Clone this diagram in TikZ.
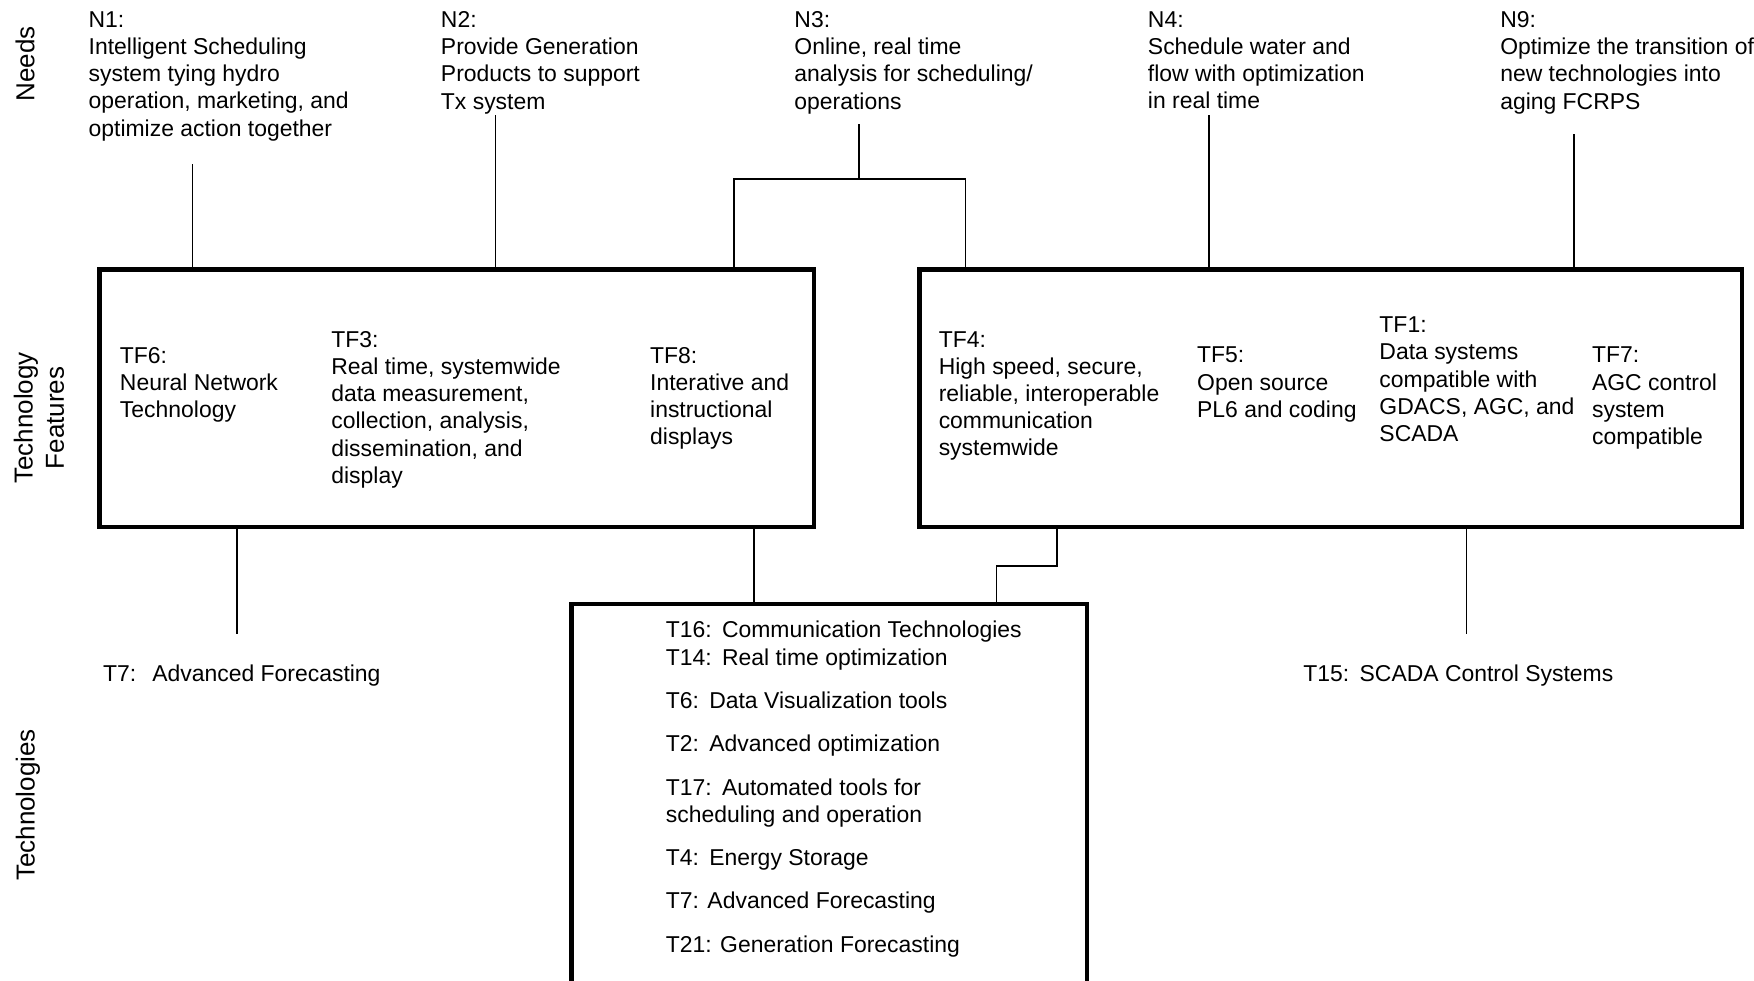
\documentclass[tikz,border=0pt]{standalone}
\usepackage{fontspec}
\setmainfont{Liberation Sans}
\newcommand\tgap{\hspace{0.45em}}
\begin{document}
\begin{tikzpicture}[x=0.75pt,y=-0.75pt,
  txt/.style={font=\fontsize{17.2}{20.4}\selectfont, align=left, anchor=base west, inner sep=0pt},
  mtxt/.style={txt, anchor=north west},
  side/.style={font=\fontsize{19.5}{23.5}\selectfont, align=center, rotate=90, inner sep=0pt},
  tfbox/.style={draw, line width=3.2pt, rectangle, anchor=north west, inner sep=0pt, outer sep=0pt},
  link/.style={line width=1.1pt}]
\useasboundingbox (0,0) rectangle (1754,981);

% row labels
\node[side] (lneeds) at (25,64) {Needs};
\node[side] (ltf) at (39,418) {Technology\\Features};
\node[side] (ltech) at (28,805) {Technologies};

% needs (multi-line texts placed by their top edge)
\node[mtxt] (n1) at (88.4,11.2) {N1:\\Intelligent Scheduling\\system tying hydro\\operation, marketing, and\\optimize action together};
\node[mtxt] (n2) at (440.7,11.2) {N2:\\Provide Generation\\Products to support\\Tx system};
\node[mtxt] (n3) at (794.2,11.2) {N3:\\Online, real time\\analysis for scheduling/\\operations};
\node[mtxt] (n4) at (1147.7,11.2) {N4:\\Schedule water and\\flow with optimization\\in real time};
\node[mtxt] (n9) at (1500,11.2) {N9:\\Optimize the transition of\\new technologies into\\aging FCRPS};

% technology feature boxes
\node[tfbox, minimum width=536pt, minimum height=193pt] (tfL) at (99.6,269.6) {};
\node[tfbox, minimum width=616.6pt, minimum height=193pt] (tfR) at (919.5,269.6) {};

\node[mtxt] (tf6) at (119.7,346.8) {TF6:\\Neural Network\\Technology};
\node[mtxt] (tf3) at (331.1,331.1) {TF3:\\Real time, systemwide\\data measurement,\\collection, analysis,\\dissemination, and\\display};
\node[mtxt] (tf8) at (649.9,346.8) {TF8:\\Interative and\\instructional\\displays};
\node[mtxt] (tf4) at (938.5,331.1) {TF4:\\High speed, secure,\\reliable, interoperable\\communication\\systemwide};
\node[mtxt] (tf5) at (1196.9,346.8) {TF5:\\Open source\\PL6 and coding};
\node[mtxt] (tf1) at (1379.2,316.6) {TF1:\\Data systems\\compatible with\\GDACS, AGC, and\\SCADA};
\node[mtxt] (tf7) at (1591.8,346.8) {TF7:\\AGC control\\system\\compatible};

% technologies
\node[tfbox, minimum width=386.8pt, minimum height=315pt] (tbox) at (571.6,604) {};
\node[txt] (t16) at (665.6,637.1) {T16:\tgap Communication Technologies};
\node[txt] (t14) at (665.6,665) {T14:\tgap Real time optimization};
\node[txt] (t6) at (665.6,708.6) {T6:\tgap Data Visualization tools};
\node[txt] (t2) at (665.6,751.2) {T2:\tgap Advanced optimization};
\node[mtxt] (t17) at (665.6,778.6) {T17:\tgap Automated tools for\\scheduling and operation};
\node[txt] (t4) at (665.6,865.3) {T4:\tgap Energy Storage};
\node[txt] (t7b) at (665.6,908.9) {T7: Advanced Forecasting};
\node[txt] (t21) at (665.6,952.5) {T21: Generation Forecasting};

\node[txt] (t7) at (102.9,681.8) {T7:\hspace{0.7em}Advanced Forecasting};
\node[txt] (t15) at (1303.2,681.8) {T15:\tgap SCADA Control Systems};

% connector end points
\coordinate (n1s) at (192.4,164.4);
\coordinate (n2s) at (495.5,115.2);
\coordinate (n3s) at (859,124.2);
\coordinate (n3j) at (859,179);
\coordinate (n3l) at (733.8,179);
\coordinate (n3r) at (965.4,179);
\coordinate (n4s) at (1209.2,115.2);
\coordinate (n9s) at (1573.9,134.2);
\coordinate (t7s) at (237.1,634.2);
\coordinate (t15s) at (1466.5,634.2);
\coordinate (lx) at (754,0);
\coordinate (rx) at (1057,566);
\coordinate (rj) at (996.7,566);

% needs to features
\draw[link] (n1s) -- (n1s |- tfL.north);
\draw[link] (n2s) -- (n2s |- tfL.north);
\draw[link] (n3s) -- (n3j);
\draw[link] (n3l |- tfL.north) -- (n3l) -- (n3r) -- (n3r |- tfR.north);
\draw[link] (n4s) -- (n4s |- tfR.north);
\draw[link] (n9s) -- (n9s |- tfR.north);

% features to technologies
\draw[link] (t7s |- tfL.south) -- (t7s);
\draw[link] (lx |- tfL.south) -- (lx |- tbox.north);
\draw[link] (rx |- tfR.south) -- (rx) -- (rj) -- (rj |- tbox.north);
\draw[link] (t15s |- tfR.south) -- (t15s);
\end{tikzpicture}
\end{document}
